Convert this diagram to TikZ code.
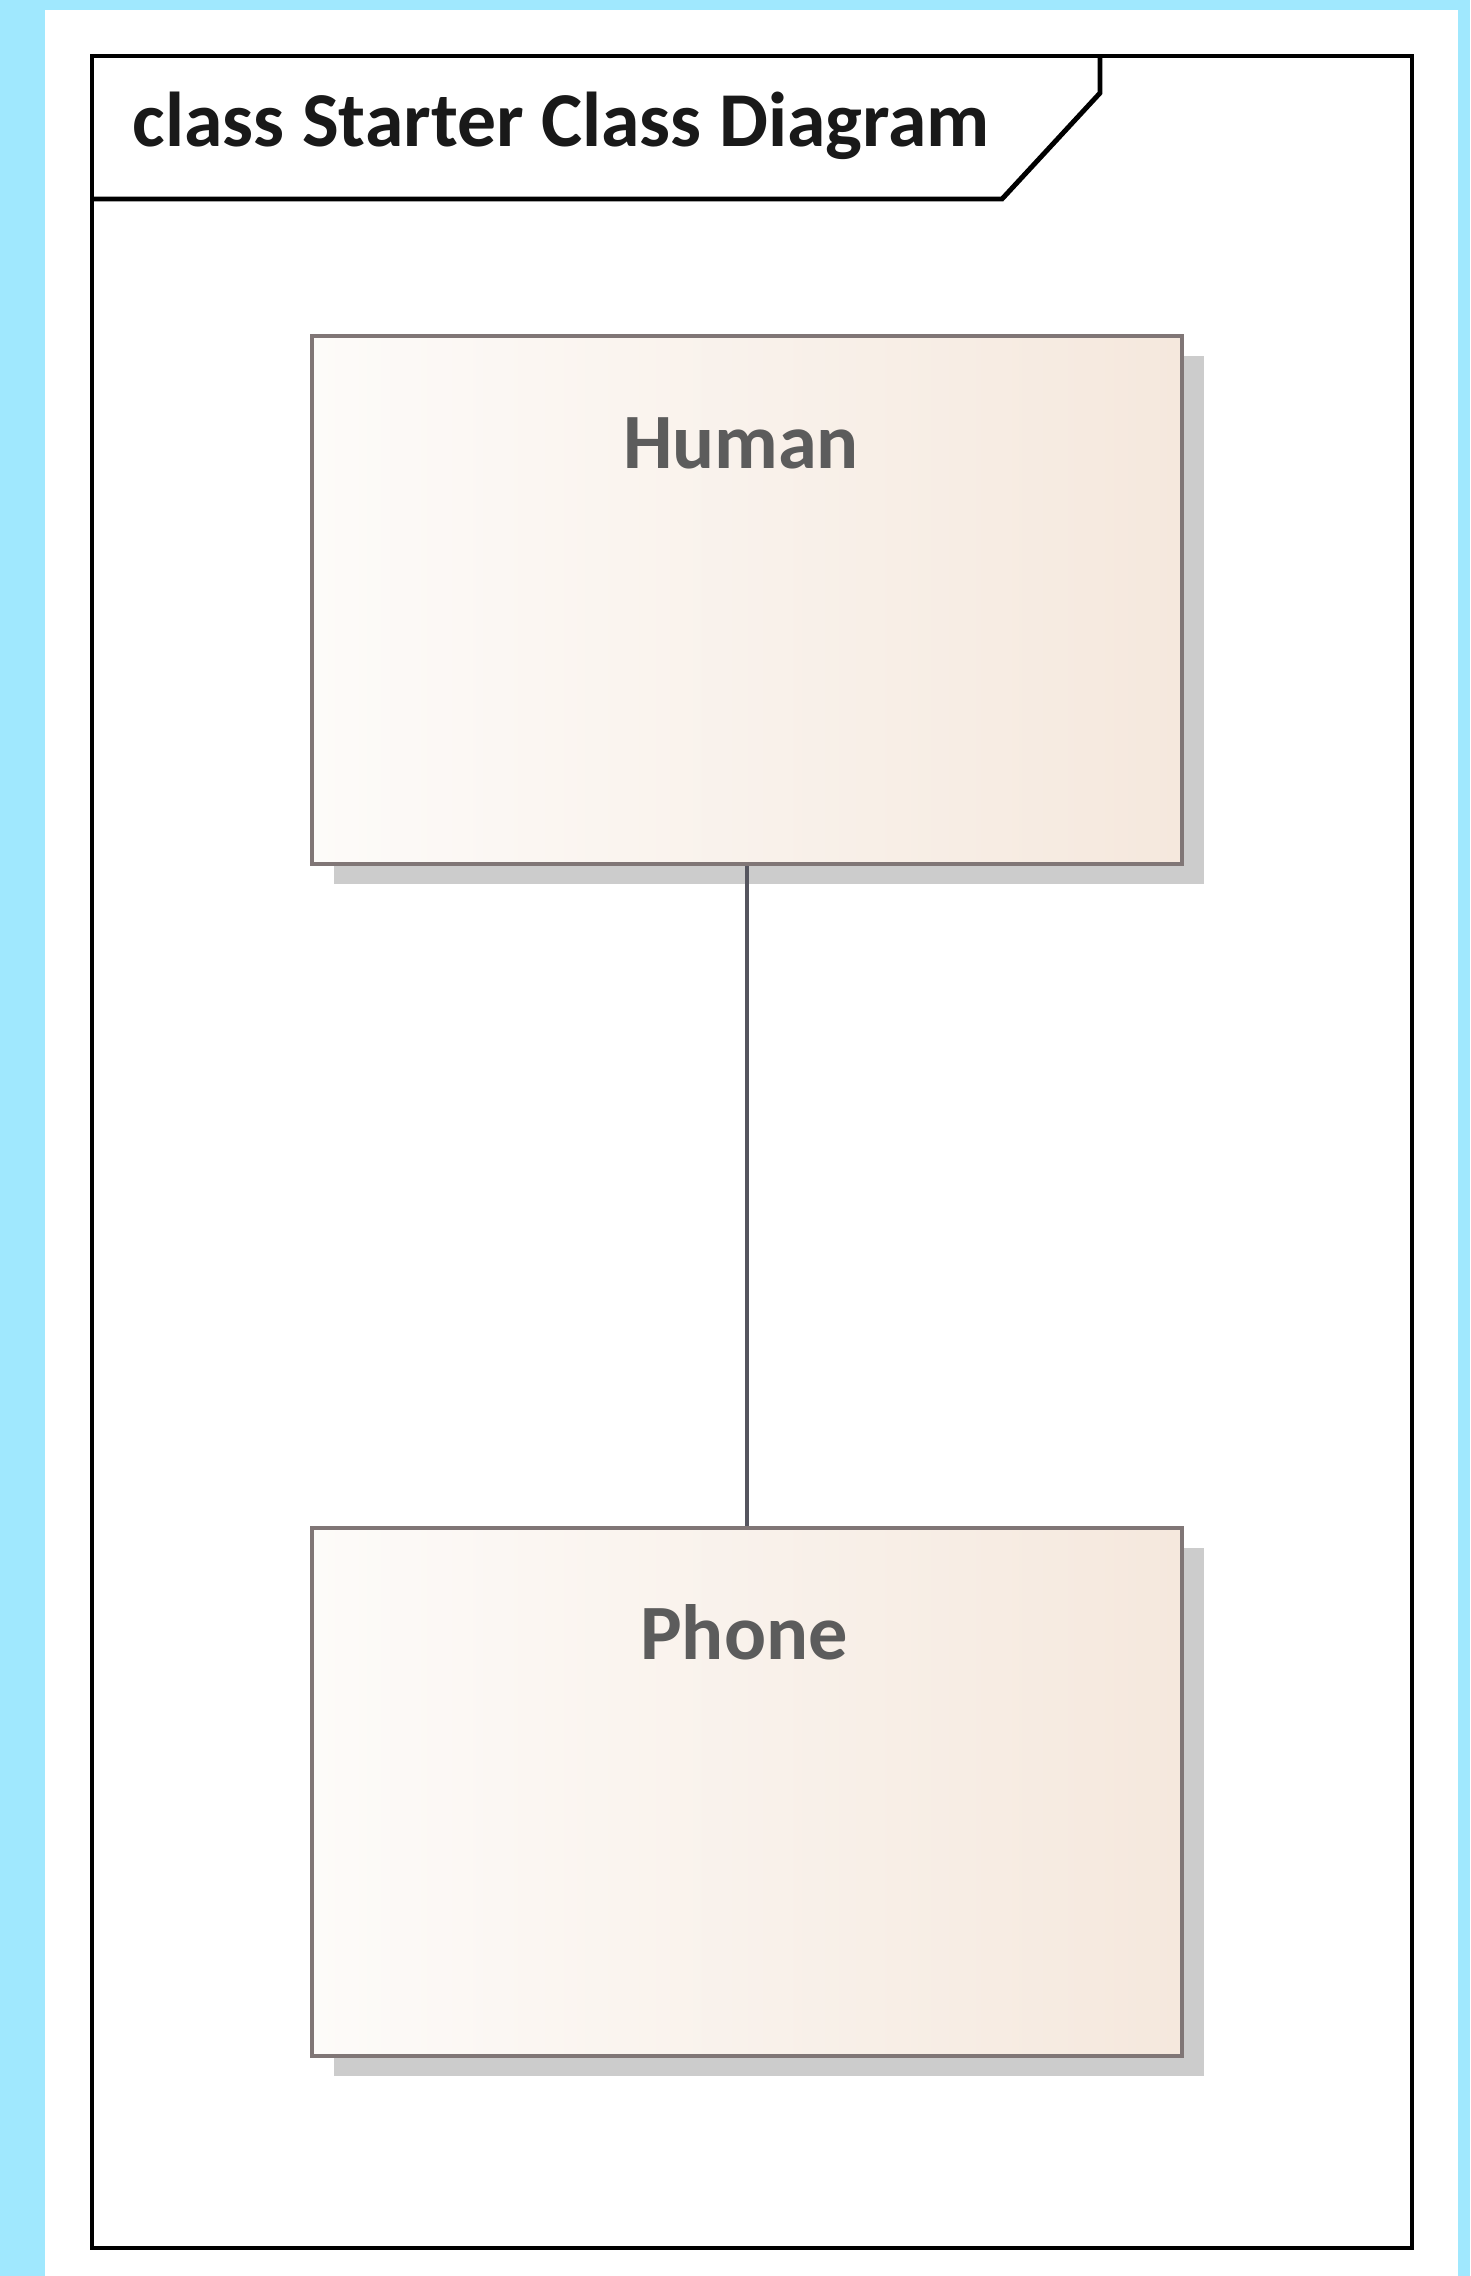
\documentclass[tikz,border=0pt]{standalone}
\usepackage{fontspec}
\setmainfont{Carlito}
\usepackage{tikz}
\usepackage{xcolor}
\usetikzlibrary{positioning,shadows}

\definecolor{bgcyan}{RGB}{160,232,254}
\definecolor{clsborder}{RGB}{128,118,118}
\definecolor{clsleft}{RGB}{253,251,249}
\definecolor{clsright}{RGB}{245,232,221}
\definecolor{clstext}{RGB}{92,92,92}
\definecolor{assocline}{RGB}{85,85,95}

\tikzset{
  clsbox/.style={draw=clsborder, line width=1.2pt, left color=clsleft, right color=clsright,
    minimum width=87mm, minimum height=52.8mm, inner sep=0pt,
    drop shadow={shadow xshift=2.2mm, shadow yshift=-2mm, fill=black!20, opacity=1}},
  clsname/.style={anchor=base, inner sep=0pt, text=clstext, font=\fontsize{22.3}{27}\selectfont\bfseries},
  assoc/.style={draw=assocline, line width=1.1pt}
}

\begin{document}
\begin{tikzpicture}[x=0.1mm, y=-0.1mm]
                \useasboundingbox (0,0) rectangle (1470,2276);
                \fill[bgcyan] (0,0) rectangle (1470,2276);
                \fill[white] (45,10) rectangle (1458,2276);
                \draw[black, line width=1.4pt] (92,56) rectangle (1412,2248);
                \draw[black, line width=1.4pt] (92,199) -- (1002,199) -- (1100,93) -- (1100,56);
                \node[anchor=base west, inner sep=0pt, text=black!90, font=\fontsize{22.1}{27}\selectfont\bfseries] (title) at (132,147) {class Starter Class Diagram};
                \node[clsbox] (human) at (747,600) {};
                \node[clsbox] (phone) at (747,1792) {};
                \node[clsname] (humanname) at ([xshift=-0.6mm, yshift=-13.5mm]human.north) {Human};
                \node[clsname] (phonename) at ([xshift=-0.3mm, yshift=-13.4mm]phone.north) {Phone};
                \draw[assoc] (human) -- (phone);
            \end{tikzpicture}
\end{document}
